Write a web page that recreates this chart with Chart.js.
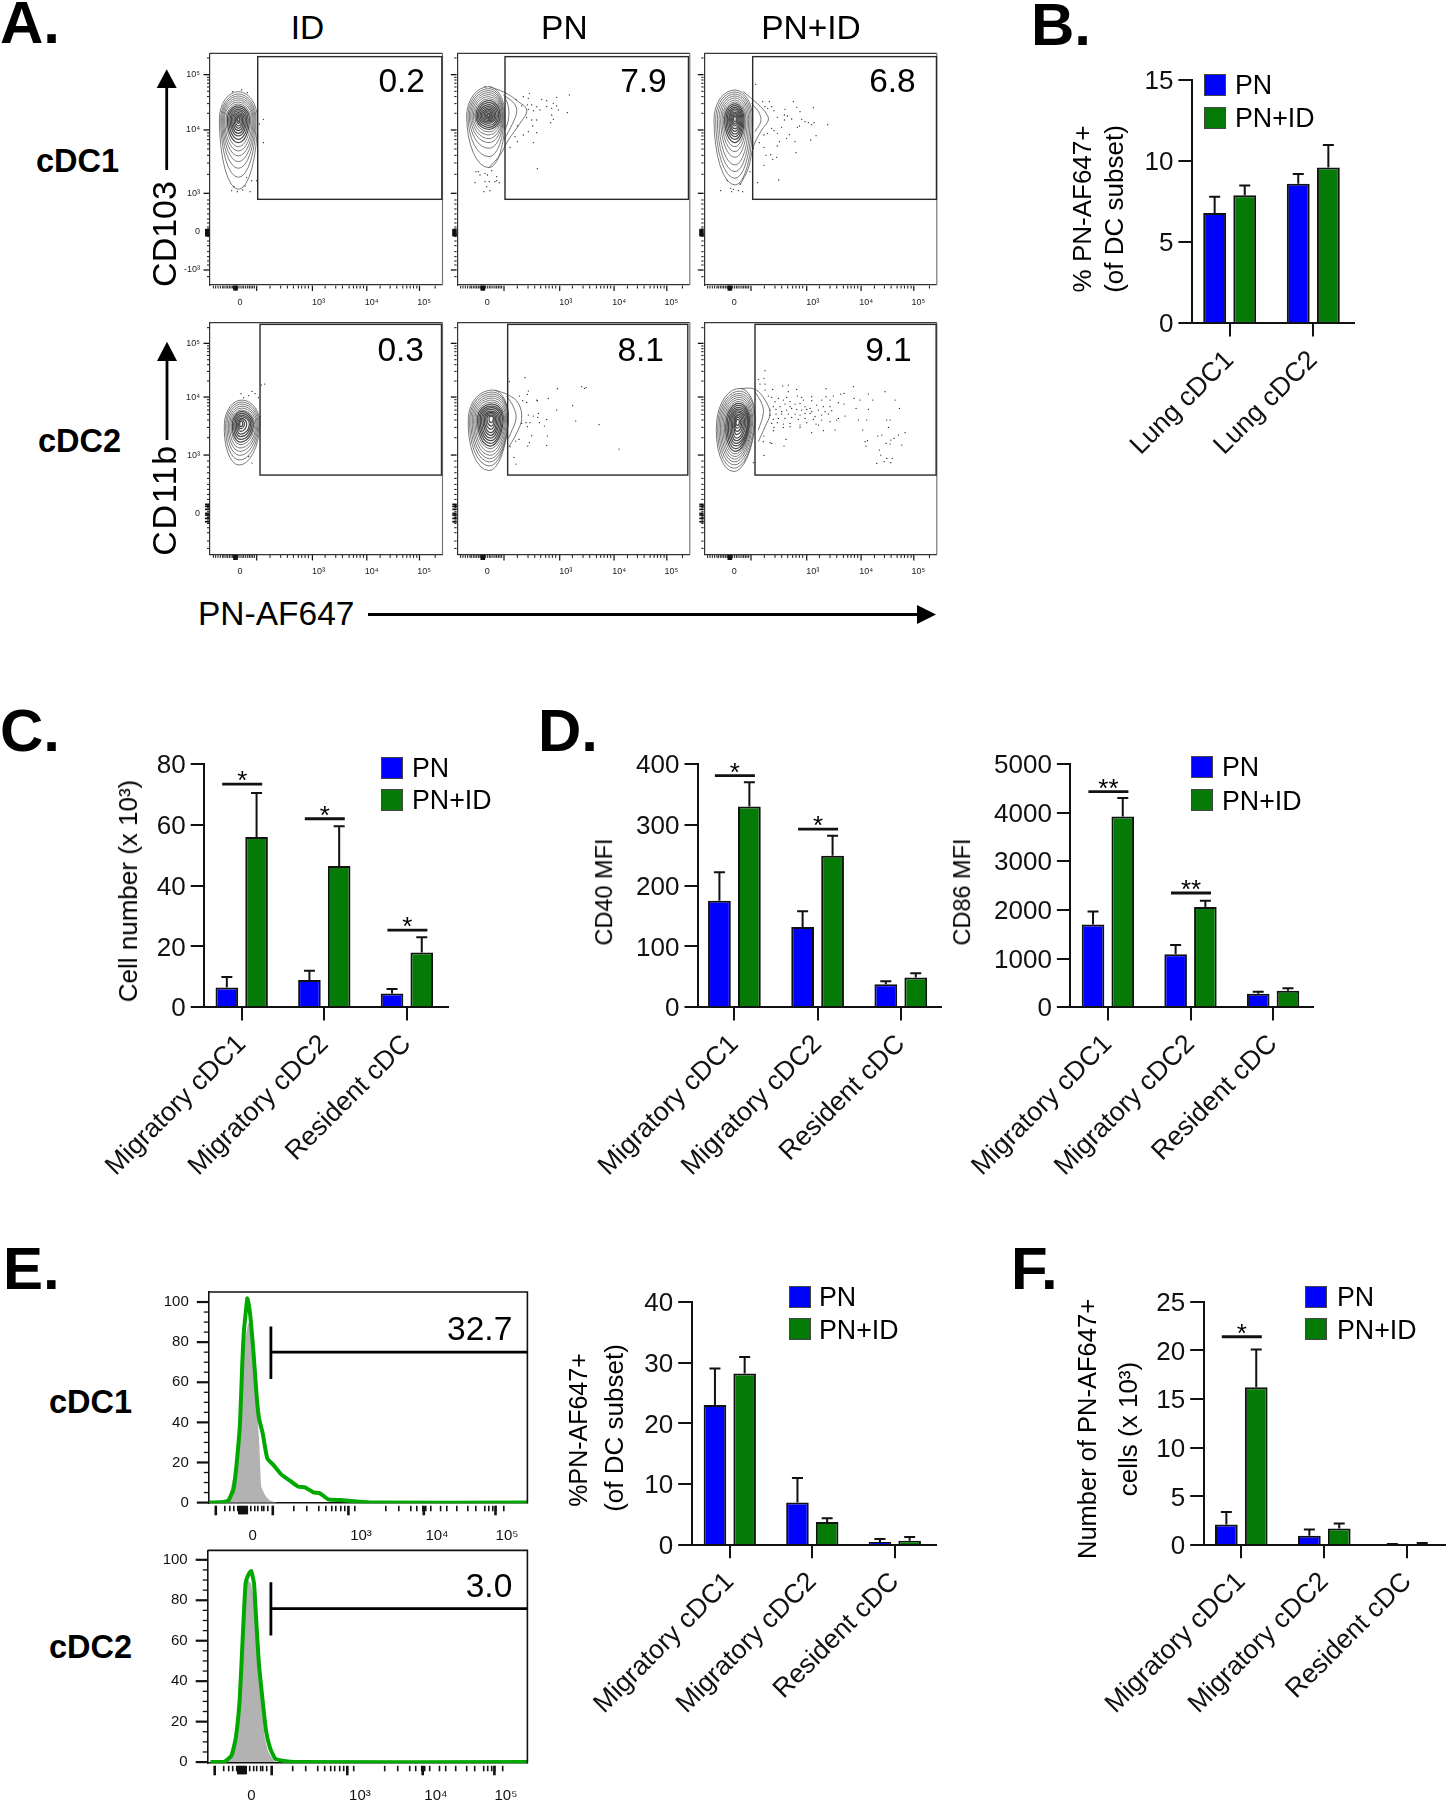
<!DOCTYPE html>
<html><head><meta charset="utf-8">
<script src="https://cdn.jsdelivr.net/npm/chart.js@4"></script>
<style>
html,body{margin:0;padding:0;background:#fff}
#page{position:relative;width:1448px;height:1800px;overflow:hidden;font-family:"Liberation Sans",Arial,sans-serif;color:#000}
#page canvas{position:absolute}
.t{position:absolute;white-space:nowrap;line-height:1}
svg{position:absolute;left:0;top:0}
</style></head><body><div id="page"></div>
<script>
/* ---------- bar panel data ---------- */
const lungCats=['Lung cDC1','Lung cDC2'];
const dcCats=['Migratory cDC1','Migratory cDC2','Resident cDC'];
const seriesNames=['PN','PN+ID'];

const bPN=[6.8,8.6], bPNTop=[7.8,9.2], bID=[7.9,9.6], bIDTop=[8.5,11];
const cPN=[6.5,9,4.5], cPNTop=[10,12,6], cID=[56,46.5,18], cIDTop=[70.5,59.5,23];
const cSigCat=[0,1,2], cSigVal=[73.4,62,25.4], cSigStars=['*','*','*'];
const d1PN=[175,132,38], d1PNTop=[222,158,43], d1ID=[330,249,49], d1IDTop=[370,282,56];
const d1SigCat=[0,1], d1SigVal=[381,293], d1SigStars=['*','*'];
const d2PN=[1700,1090,280], d2PNTop=[1970,1280,320], d2ID=[3920,2060,340], d2IDTop=[4300,2190,390];
const d2SigCat=[0,1], d2SigVal=[4431,2349], d2SigStars=['**','**'];
const ePN=[23,7,0.5], ePNTop=[29,11,1], eID=[28.2,3.8,0.7], eIDTop=[30.9,4.4,1.3];
const fPN=[2.1,0.95,0.05], fPNTop=[3.4,1.6,0.1], fID=[16.2,1.7,0.1], fIDTop=[20.1,2.2,0.2];
const fSigCat=[0], fSigVal=[21.4], fSigStars=['*'];

/* ---------- histogram data (panel E): channel, % of max ---------- */
const h1GreenX=[0,14.5,19.5,24.5,27.2,31.2,33.5,35.2,37.9,38.5,41.2,44.5,47.9,50.2,53.9,58.5,64.5,72.9,81.2,89.5,96.2,104.5,111.2,119.5,131.2,147.9,164.5,318.6];
const h1GreenY=[0,0.3,1,6.3,16.2,39.5,69.5,86,99.3,101.8,94.4,76,52.8,42,34.5,22,18.8,13.8,10.9,7.9,7.6,5.1,4.6,1.6,1.3,0.5,0,0];
const h1GrayX=[17.9,21.9,26.2,31.2,36.2,39.5,41.2,44.5,47.9,50.5,52.5,56.2,61.2,67.9];
const h1GrayY=[0,6.3,17.9,42.9,81,89.4,89.4,71,49.5,29.6,8,3.8,1,0];
const h2GreenX=[2.8,16.9,23.9,28.1,32,35.1,37.9,40.7,43.5,46.3,48.4,51.2,54.8,58.3,62.5,67.7,76.5,87,319.7];
const h2GreenY=[0,0.2,3.3,12,31,62.3,88.4,92.7,94.4,88.4,71,48.5,31,15.5,6.8,1.6,0.5,0,0];
const h2GrayX=[11.6,20.4,27.4,30.9,34.4,36.9,39.7,43.2,46.7,50.2,53.7,57.2,60.7,66,69.5];
const h2GrayY=[0,1.6,13.7,29.4,62.3,86.6,90,88.4,78,53.6,29.4,12,5,0.7,0];
const histXTickVals=[43.8,152.2,228.2,298.2];
const histXTickText=['0','10³','10⁴','10⁵'];
const histXMinorAll=[7,16,21,25,29,42,46,49,53,55,59,64,85,98,110,117,123,127,132,136,146,177,190,202,208,214,217,222,231.8,238,248,259,267,276,280,284,287,295];
const histXMajor=[7,64,139.6,215,286.7];
const histXBlob=[30.5,32,33.5,35,36.5,38];

/* ---------- contour-plot data (panel A), in channel units ---------- */
const flowXTickVals=[90,325,485,642];
const flowXTickText=['0','10³','10⁴','10⁵'];
const flowXMajor=[140,307,470,628];
const flowXMinor=[10,17,24,31,38,42,48,53,58,63,68,71,74,77,80,84,90,96,101,107,113,118,123,128,133,180,212,232,250,265,275,285,295,345,377,397,417,430,440,450,460,510,540,560,578,590,600,610,620,675];
const flowXBlob=[72,75,78,81];
const flowYTop=[45,160,275,465,631], flowYTopText=['-10³','0','10³','10⁴','10⁵'];
const flowYBot=[123,298,472,633], flowYBotText=['0','10³','10⁴','10⁵'];
const flowYMinorTop=[681,623,615,605,594,581,565,544,515,456,447,436,423,408,389,366,332,255,243,228,213,198,186,174,168,155,152,149,146,132,118,100,85,72,60,25];
const flowYMinorBot=[680,625,617,608,597,584,569,549,520,464,455,445,433,420,403,381,350,280,262,245,228,210,195,180,165,150,147,144,140,135,128,118,115,111,108,103,98,93,80,65,40,18];

const a1Points=[[340,238],[328,252],[340,308],[248,155],[275,150],[292,158],[245,452],[262,455],[278,450],[300,455],[290,412],[305,422],[320,422],[252,440],[285,438]];
const a2Points=[[268,160],[388,165],[228,178],[250,170],[265,175],[305,178],[320,182],[350,172],[340,190],[245,198],[262,195],[275,195],[290,200],[320,200],[335,205],[350,198],[355,210],[300,210],[280,212],[265,208],[382,218],[260,232],[275,240],[290,240],[335,225],[340,238],[332,248],[265,275],[290,278],[278,258],[232,258],[250,285],[232,305],[225,290],[210,322],[280,308],[292,386],[135,140],[108,395],[120,405],[135,400],[142,405],[155,392],[170,410],[170,422],[178,428],[105,428],[135,425],[148,425],[165,425],[140,440],[150,452],[132,455],[115,395]];
const a3Points=[[197,133],[218,185],[238,185],[310,185],[370,203],[225,200],[245,200],[320,202],[233,205],[252,212],[285,208],[330,215],[262,232],[283,225],[292,228],[305,237],[283,240],[335,238],[345,245],[355,248],[372,248],[365,254],[413,254],[322,262],[328,258],[275,262],[245,265],[252,272],[262,280],[232,280],[222,285],[298,284],[378,287],[290,295],[362,300],[315,305],[268,305],[208,308],[262,318],[318,338],[228,346],[242,344],[260,352],[248,358],[222,376],[180,395],[266,420],[203,428],[92,452],[122,445],[130,448],[145,452],[158,455],[125,455],[150,432],[112,422],[190,325],[222,322]];
const a4Points=[[145,251],[168,257],[187,251],[206,225],[216,222],[153,263],[197,263],[178,244],[202,320],[168,440],[178,459]];
const a5Points=[[208,215],[255,203],[265,243],[262,253],[238,258],[248,272],[260,277],[290,270],[292,272],[325,265],[352,236],[425,230],[438,233],[433,235],[398,287],[350,300],[295,310],[293,322],[280,318],[265,315],[320,328],[270,338],[258,338],[262,350],[298,338],[313,348],[245,340],[407,333],[477,344],[322,378],[275,377],[268,398],[263,408],[320,406],[237,388],[227,393],[537,417],[222,442],[228,462],[210,410]];
const a6Points=[[225,182],[205,208],[222,205],[210,222],[225,222],[225,240],[248,238],[278,228],[295,225],[320,238],[295,245],[408,236],[490,230],[585,245],[535,252],[452,252],[462,250],[430,258],[408,260],[365,260],[335,262],[322,258],[290,262],[265,265],[245,262],[235,258],[280,270],[255,275],[300,275],[340,270],[365,272],[395,270],[420,270],[445,278],[462,282],[492,265],[510,270],[548,270],[615,270],[250,290],[270,290],[285,282],[300,290],[315,282],[330,280],[345,290],[360,295],[380,285],[400,290],[420,290],[498,295],[535,298],[628,295],[240,300],[258,298],[275,305],[290,300],[305,295],[320,298],[335,300],[350,298],[365,305],[385,300],[405,305],[425,302],[240,315],[258,312],[275,312],[295,312],[315,312],[330,315],[345,310],[360,310],[375,320],[395,315],[415,312],[465,318],[250,328],[265,325],[285,325],[305,322],[325,328],[345,325],[370,328],[395,330],[420,335],[445,325],[505,330],[530,330],[590,330],[600,330],[245,340],[262,338],[280,342],[300,340],[330,345],[350,338],[378,342],[440,330],[252,352],[280,352],[300,350],[330,352],[385,345],[595,352],[250,362],[400,362],[435,360],[518,360],[365,368],[222,378],[288,388],[575,375],[563,378],[625,375],[645,368],[612,385],[602,390],[220,395],[245,400],[282,408],[532,392],[525,395],[588,400],[600,402],[635,405],[528,408],[222,436],[568,420],[572,435],[590,445],[606,445],[560,460],[582,455],[602,458],[190,458],[240,398]];

const a1T=[155,162,168,174,180,186,192,198,203,208,213,218,222,226,230,233];
const a1B=[448,412,385,365,348,333,320,308,298,288,280,272,265,258,250,244];
const a1L=[208,212,215,218,221,224,228,232,236,240,244,248,252,256,260,262];
const a1R=[322,318,315,312,309,306,302,298,294,290,286,282,278,274,270,268];
const a2T=[140,146,152,158,164,170,176,182,188,194,199,204,208,212,216,220,222];
const a2B=[383,350,325,308,296,285,276,268,262,256,250,246,242,238,235,232,230];
const a2L=[80,84,88,92,96,100,104,108,112,116,120,124,128,132,136,140,143];
const a2R=[195,192,190,188,186,184,182,180,176,172,168,164,160,157,154,151,149];
const a3T=[150,156,162,168,174,180,186,192,197,202,207,212,217,221,225,229];
const a3B=[435,415,395,375,352,335,320,308,298,290,282,274,266,258,252,246];
const a3L=[72,77,82,87,92,96,100,104,108,112,116,119,122,125,128,131];
const a3R=[188,184,180,176,172,168,165,162,159,156,153,150,147,144,141,139];
const a4T=[270,276,282,288,294,300,305,310,315,320,325,329,333];
const a4B=[465,450,436,424,414,404,396,388,380,372,364,356,350];
const a4L=[95,99,103,107,111,115,119,123,127,131,135,138,141];
const a4R=[202,199,196,193,190,186,182,178,174,170,162,155,150];
const a5T=[240,246,252,258,264,270,276,282,288,293,298,303,307,311,315,318];
const a5B=[482,468,456,446,436,426,416,408,400,392,384,376,368,358,348,338];
const a5L=[85,89,93,97,101,105,109,113,117,121,125,129,133,137,141,147];
const a5R=[205,205,205,203,200,197,194,190,187,183,179,175,171,167,163,160];
const a6T=[235,243,250,256,262,268,274,280,286,292,297,302,307,312,317,322,328];
const a6B=[485,475,465,456,448,440,432,424,416,408,400,392,384,374,364,354,346];
const a6L=[80,84,88,92,96,100,104,108,112,116,120,124,128,132,134,136,138];
const a6R=[195,195,192,188,185,182,180,178,176,174,172,168,164,160,156,152,148];
const a2Lobes=[[[147,140],[195,158],[232,183],[260,210],[240,250],[205,300],[180,345],[147,383]],[[190,165],[222,190],[230,215],[218,250],[192,300]],[[195,172],[205,200],[205,240],[195,270]]];
const a3Lobes=[[[160,155],[195,185],[225,215],[235,240],[215,270],[190,320],[175,385],[150,435]],[[185,190],[208,220],[212,245],[195,275]]];
const a4Lobes=[];
const a5Lobes=[[[165,240],[205,255],[235,280],[245,325],[232,365],[207,410]],[[200,258],[220,290],[228,325],[212,370],[205,385]]];
const a6Lobes=[[[150,235],[195,238],[225,270],[240,310],[225,350],[205,395]],[[195,245],[215,280],[220,310],[205,360]]];

/* ---------- helpers ---------- */
const page=document.getElementById('page');
const FONT='"Liberation Sans",Arial,sans-serif';
const BLUE='#0000ff', GREEN='#067a06';
Chart.defaults.font.family=FONT;
Chart.defaults.animation=false;
Chart.defaults.responsive=false;
Chart.defaults.devicePixelRatio=1;
Chart.defaults.color='#000';

function noPad(s){s.paddingLeft=s.paddingRight=s.paddingTop=s.paddingBottom=0;}
function mk(L,T,R,B,p){
  const c=document.createElement('canvas');
  const X0=Math.floor(L-p.l),Y0=Math.floor(T-p.t);
  const W=Math.ceil(R+p.r-X0),H=Math.ceil(B+p.b-Y0);
  c.width=W;c.height=H;c.style.left=X0+'px';c.style.top=Y0+'px';
  c.style.width=W+'px';c.style.height=H+'px';
  page.appendChild(c);
  return {c,X0,Y0,left:L-X0,top:T-Y0,right:W-(R-X0),bottom:H-(B-Y0)};
}
function text(s,o){
  const e=document.createElement('div');e.className='t';e.textContent=s;
  e.style.fontSize=o.size+'px';e.style.fontWeight=o.bold?'bold':'normal';
  const base=o.base-0.8465*o.size;
  e.style.top=base+'px';
  if(o.right!==undefined){e.style.right=(1448-o.right)+'px';}
  else if(o.cx!==undefined){e.style.left=o.cx+'px';e.style.transform='translateX(-50%)';}
  else{e.style.left=o.x+'px';}
  page.appendChild(e);
}
function vtext(s,bx,cy,size,spacing){
  const e=document.createElement('div');e.className='t';e.textContent=s;
  e.style.fontSize=size+'px';
  if(spacing)e.style.letterSpacing=spacing+'px';
  e.style.left=bx+'px';e.style.top=cy+'px';
  e.style.transformOrigin='0 0';
  e.style.transform='rotate(-90deg) translate(-50%,'+(-0.8465*size)+'px)';
  page.appendChild(e);
}

/* ---------- bar panels ---------- */
function barPanel(o){
  const box=mk(o.L,o.T,o.R,o.B,{l:160,t:14,r:o.R>1440?1:6,b:215});
  const pitch=o.ticks[1]-o.ticks[0];
  const xMin=-(o.ticks[0]-o.L)/pitch, xMax=(o.R-o.ticks[0])/pitch;
  const extras={id:'extras'+o.id,afterDatasetsDraw(ch){
    const ctx=ch.ctx,x=ch.scales.x,y=ch.scales.y;
    ctx.save();
    ctx.strokeStyle='#111';ctx.lineWidth=2;
    [o.topA,o.topB].forEach((tops,ds)=>{
      ch.getDatasetMeta(ds).data.forEach((bar,i)=>{
        const py=y.getPixelForValue(tops[i]);
        ctx.beginPath();ctx.moveTo(bar.x,bar.y);ctx.lineTo(bar.x,py);
        ctx.moveTo(bar.x-5.5,py);ctx.lineTo(bar.x+5.5,py);ctx.stroke();
      });
    });
    if(o.sigCat){
      ctx.fillStyle='#000';ctx.font='26px '+FONT;ctx.textAlign='center';ctx.textBaseline='alphabetic';
      o.sigCat.forEach((c,i)=>{
        const cx=x.getPixelForValue(c)+0.5,py=y.getPixelForValue(o.sigVal[i]);
        ctx.lineWidth=2.8;ctx.beginPath();ctx.moveTo(cx-20,py);ctx.lineTo(cx+20,py);ctx.stroke();
        ctx.fillText(o.sigStars[i],cx,py+5);
      });
    }
    ctx.restore();
  }};
  new Chart(box.c,{type:'bar',
    data:{datasets:[
      {label:seriesNames[0],data:o.cats.map((_,i)=>({x:i,y:o.a[i]})),backgroundColor:BLUE,borderColor:'#111',borderWidth:2,categoryPercentage:.72,barPercentage:.76},
      {label:seriesNames[1],data:o.cats.map((_,i)=>({x:i,y:o.b[i]})),backgroundColor:GREEN,borderColor:'#111',borderWidth:2,categoryPercentage:.72,barPercentage:.76}
    ]},
    options:{
      layout:{autoPadding:false,padding:{top:box.top,right:box.right,left:0,bottom:0}},
      plugins:{legend:{display:false},tooltip:{enabled:false}},
      scales:{
        x:{type:'linear',offset:false,min:xMin,max:xMax,
          afterBuildTicks(s){s.ticks=o.cats.map((_,i)=>({value:i}));},
          afterFit(s){s.height=box.bottom;noPad(s);},
          border:{color:'#111',width:2},
          grid:{offset:false,drawOnChartArea:false,color:'#111',lineWidth:2,tickLength:13.3},
          ticks:{autoSkip:false,minRotation:45,maxRotation:45,padding:8,font:{size:26.7},color:'#111',
            callback:(v,i)=>o.cats[i]}},
        y:{min:0,max:o.yMax,
          afterFit(s){s.width=box.left;noPad(s);},
          border:{color:'#111',width:2},
          grid:{drawOnChartArea:false,color:'#111',lineWidth:2,tickLength:13.3},
          ticks:{stepSize:o.yStep,padding:5,labelOffset:2,font:{size:26},color:'#111',callback:v=>String(v)}}
      }
    },plugins:[extras]});
  o.legend&&seriesNames.forEach((n,i)=>{
    const s=document.createElement('div');
    s.style.cssText='position:absolute;box-sizing:border-box;border:1.5px solid #444;left:'+o.legend.x+'px;top:'+o.legend.y[i]+'px;width:'+o.legend.w+'px;height:22px;background:'+(i?GREEN:BLUE);
    page.appendChild(s);
    text(n,{x:o.legend.tx,base:o.legend.y[i]+21,size:26.8});
  });
  o.titles.forEach(t=>vtext(t[0],t[1],t[2],t[3]));
}
barPanel({id:'B',L:1191.7,R:1354,T:80,B:323.3,ticks:[1229.7,1313.3],cats:lungCats,a:bPN,b:bID,topA:bPNTop,topB:bIDTop,yMax:15,yStep:5,
  legend:{x:1204,w:22,y:[74,107],tx:1235},titles:[['% PN-AF647+',1090.7,209,26],['(of DC subset)',1123,209,26]]});
barPanel({id:'C',L:204,R:448,T:764,B:1007.3,ticks:[241.7,324.3,407],cats:dcCats,a:cPN,b:cID,topA:cPNTop,topB:cIDTop,yMax:80,yStep:20,sigCat:cSigCat,sigVal:cSigVal,sigStars:cSigStars,
  legend:{x:380.7,w:22,y:[756.7,789],tx:412},titles:[['Cell number (x 10³)',137,891,26]]});
barPanel({id:'D1',L:697.8,R:941,T:764,B:1007.3,ticks:[734.4,817.6,900.2],cats:dcCats,a:d1PN,b:d1ID,topA:d1PNTop,topB:d1IDTop,yMax:400,yStep:100,sigCat:d1SigCat,sigVal:d1SigVal,sigStars:d1SigStars,
  titles:[['CD40 MFI',613,891.7,23.5]]});
barPanel({id:'D2',L:1070.2,R:1313.4,T:764,B:1007.3,ticks:[1107.9,1190.5,1273.1],cats:dcCats,a:d2PN,b:d2ID,topA:d2PNTop,topB:d2IDTop,yMax:5000,yStep:1000,sigCat:d2SigCat,sigVal:d2SigVal,sigStars:d2SigStars,
  legend:{x:1191,w:22,y:[756,789.3],tx:1222},titles:[['CD86 MFI',971,891.7,23.5]]});
barPanel({id:'E',L:691.5,R:936,T:1301.7,B:1545,ticks:[729.8,812.3,895.4],cats:dcCats,a:ePN,b:eID,topA:ePNTop,topB:eIDTop,yMax:40,yStep:10,
  legend:{x:788.8,w:22,y:[1285.7,1318.3],tx:819},titles:[['%PN-AF647+',587,1430,25],['(of DC subset)',623,1428,26]]});
barPanel({id:'F',L:1203.5,R:1445,T:1301.7,B:1545,ticks:[1241.3,1324.3,1406.8],cats:dcCats,a:fPN,b:fID,topA:fPNTop,topB:fIDTop,yMax:25,yStep:5,sigCat:fSigCat,sigVal:fSigVal,sigStars:fSigStars,
  legend:{x:1305.4,w:22,y:[1285.7,1318.3],tx:1337},titles:[['Number of PN-AF647+',1097,1429,25.5],['cells (x 10³)',1137,1429,26]]});

/* ---------- panel A contour plots ---------- */
const QUAD=[Math.PI,1.5*Math.PI,2*Math.PI,2.5*Math.PI];
function flowPanel(p){
  const box=mk(p.L,p.T,p.L+232.5,p.T+231.7,{l:34,t:3,r:2,b:30});
  const conv=([x,y])=>({x:x-p.x0,y:p.y1-y});
  const overlay={id:'flow',beforeDatasetsDraw(ch){
    const ctx=ch.ctx,x=ch.scales.x,y=ch.scales.y;
    const cx=x.getPixelForValue(p.cx-p.x0),cy=y.getPixelForValue(p.y1-p.cy);
    const k=1/3,n=p.T_.length;
    ctx.save();
    ctx.translate(cx,cy);ctx.rotate(p.tilt*Math.PI/180);
    p.T_.forEach((_,i)=>{
      const rl=(p.cx-p.L_[i])*k,rr=(p.R_[i]-p.cx)*k,rt=(p.cy-p.T_[i])*k,rb=(p.B_[i]-p.cy)*k;
      ctx.strokeStyle=i<n*.4?'#666':'#4a4a4a';
      ctx.lineWidth=i<n*.4?.85:1.25;
      ctx.beginPath();
      ctx.ellipse(0,0,rl,rt,0,QUAD[0],QUAD[1]);
      ctx.ellipse(0,0,rr,rt,0,QUAD[1],QUAD[2]);
      ctx.ellipse(0,0,rr,rb,0,0,Math.PI/2);
      ctx.ellipse(0,0,rl,rb,0,Math.PI/2,Math.PI);
      ctx.closePath();ctx.stroke();
    });
    ctx.restore();
  },afterDatasetsDraw(ch){
    const ctx=ch.ctx,x=ch.scales.x,y=ch.scales.y,a=ch.chartArea;
    ctx.save();
    ctx.strokeStyle='#3a3a3a';ctx.lineWidth=1.2;
    ctx.beginPath();ctx.moveTo(a.left,a.top);ctx.lineTo(a.right,a.top);ctx.stroke();
    ctx.strokeStyle='#777';ctx.beginPath();ctx.moveTo(a.right,a.top);ctx.lineTo(a.right,a.bottom);ctx.stroke();
    ctx.strokeStyle='#2a2a2a';ctx.lineWidth=1.4;
    const gx0=x.getPixelForValue(p.gate[0]),gx1=x.getPixelForValue(p.gate[1]),gy1=y.getPixelForValue(p.gate[2]),gy0=y.getPixelForValue(p.gate[3]);
    ctx.strokeRect(gx0,gy1,gx1-gx0,gy0-gy1);
    ctx.strokeStyle='#111';ctx.lineWidth=1;
    flowXMinor.forEach(v=>{const px=x.getPixelForValue(v);ctx.beginPath();ctx.moveTo(px,a.bottom+.7);ctx.lineTo(px,a.bottom+3.5);ctx.stroke();});
    ctx.lineWidth=1.7;
    flowXBlob.forEach(v=>{const px=x.getPixelForValue(v);ctx.beginPath();ctx.moveTo(px,a.bottom+.7);ctx.lineTo(px,a.bottom+5.6);ctx.stroke();});
    ctx.lineWidth=1.2;
    flowXMajor.forEach(v=>{const px=x.getPixelForValue(v);ctx.beginPath();ctx.moveTo(px,a.bottom+.7);ctx.lineTo(px,a.bottom+6);ctx.stroke();});
    ctx.lineWidth=1;
    p.yMinor.forEach(v=>{const py=y.getPixelForValue(v);ctx.beginPath();ctx.moveTo(a.left-.7,py);ctx.lineTo(a.left-3,py);ctx.stroke();});
    ctx.lineWidth=1.3;
    p.yMajor.forEach(v=>{const py=y.getPixelForValue(v);ctx.beginPath();ctx.moveTo(a.left-.7,py);ctx.lineTo(a.left-6.5,py);ctx.stroke();});
    ctx.lineWidth=1.7;
    p.yBlob.forEach(v=>{const py=y.getPixelForValue(v);ctx.beginPath();ctx.moveTo(a.left-.7,py);ctx.lineTo(a.left-5,py);ctx.stroke();});
    ctx.restore();
  }};
  const lobes=p.lobes.map(l=>({type:'line',data:l.map(conv),showLine:true,pointRadius:0,borderColor:'#5e5e5e',borderWidth:.85,tension:.4}));
  new Chart(box.c,{type:'scatter',
    data:{datasets:[{label:'events',data:p.points.map(conv),pointRadius:.65,pointBorderWidth:0,pointBackgroundColor:'#222'},...lobes]},
    options:{
      layout:{autoPadding:false,padding:{top:box.top,right:box.right,left:0,bottom:0}},
      plugins:{legend:{display:false},tooltip:{enabled:false}},
      scales:{
        x:{type:'linear',min:0,max:697,
          afterBuildTicks(s){s.ticks=flowXTickVals.map(v=>({value:v}));},
          afterFit(s){s.height=box.bottom;noPad(s);},
          border:{color:'#333',width:1.2},
          grid:{drawOnChartArea:false,drawTicks:false},
          ticks:{autoSkip:false,maxRotation:0,padding:12,font:{size:9},color:'#222',callback:(v,i)=>flowXTickText[i]}},
        y:{type:'linear',min:0,max:695,
          afterBuildTicks(s){s.ticks=p.yTicks.map(v=>({value:v}));},
          afterFit(s){s.width=box.left;noPad(s);},
          border:{color:'#333',width:1.2},
          grid:{drawOnChartArea:false,drawTicks:false},
          ticks:{autoSkip:false,padding:10,font:{size:9},color:'#222',callback:(v,i)=>p.showY?p.yText[i]:''}}
      }
    },plugins:[overlay]});
}
const rowTop={yTicks:flowYTop,yText:flowYTopText,yMinor:flowYMinorTop,yMajor:[45,275,465,631],yBlob:[148,151,154,157,160,163,166]};
const rowBot={yTicks:flowYBot,yText:flowYBotText,yMinor:flowYMinorBot,yMajor:[298,472,633],yBlob:[150,144,135,123,118,108,98]};
flowPanel({...rowTop,showY:true,L:210,T:53.3,x0:180,y1:735,cx:265,cy:237,tilt:0,T_:a1T,B_:a1B,L_:a1L,R_:a1R,points:a1Points,lobes:[],gate:[143,695,685,257]});
flowPanel({...rowTop,L:457.3,T:53.3,x0:52,y1:735,cx:147,cy:228,tilt:0,T_:a2T,B_:a2B,L_:a2L,R_:a2R,points:a2Points,lobes:a2Lobes,gate:[143,693,685,257]});
flowPanel({...rowTop,L:704.3,T:53.3,x0:43,y1:735,cx:135,cy:238,tilt:0,T_:a3T,B_:a3B,L_:a3L,R_:a3R,points:a3Points,lobes:a3Lobes,gate:[145,696,685,257]});
flowPanel({...rowBot,showY:true,L:210,T:322.7,x0:52,y1:733,cx:145,cy:342,tilt:3,T_:a4T,B_:a4B,L_:a4L,R_:a4R,points:a4Points,lobes:a4Lobes,gate:[150,694,690,238]});
flowPanel({...rowBot,L:457.3,T:322.7,x0:52,y1:733,cx:155,cy:325,tilt:3,T_:a5T,B_:a5B,L_:a5L,R_:a5R,points:a5Points,lobes:a5Lobes,gate:[151,691,690,238]});
flowPanel({...rowBot,L:704.3,T:322.7,x0:43,y1:733,cx:143,cy:338,tilt:5,T_:a6T,B_:a6B,L_:a6L,R_:a6R,points:a6Points,lobes:a6Lobes,gate:[152,695,690,238]});

/* ---------- panel E histograms ---------- */
const pairs=(xs,ys)=>xs.map((x,i)=>({x,y:ys[i]}));
function histPanel(p){
  const box=mk(p.L,p.T,p.R,p.B,{l:50,t:2,r:2,b:36});
  const overlay={id:'hist',afterDatasetsDraw(ch){
    const ctx=ch.ctx,x=ch.scales.x,y=ch.scales.y,a=ch.chartArea;
    ctx.save();
    ctx.strokeStyle='#111';ctx.lineWidth=1.6;
    ctx.beginPath();ctx.moveTo(a.left,a.top);ctx.lineTo(a.right,a.top);ctx.lineTo(a.right,a.bottom);ctx.stroke();
    ctx.lineWidth=2.8;ctx.strokeStyle='#000';
    const gx=x.getPixelForValue(p.gx);
    ctx.beginPath();ctx.moveTo(gx,y.getPixelForValue(p.gTop));ctx.lineTo(gx,y.getPixelForValue(p.gBot));
    ctx.moveTo(gx,y.getPixelForValue(p.gMid));ctx.lineTo(a.right,y.getPixelForValue(p.gMid));ctx.stroke();
    ctx.strokeStyle='#111';ctx.lineWidth=1.6;
    histXMinorAll.forEach(v=>{const px=x.getPixelForValue(v);ctx.beginPath();ctx.moveTo(px,a.bottom+2.5);ctx.lineTo(px,a.bottom+8);ctx.stroke();});
    ctx.lineWidth=2.6;
    histXMajor.forEach(v=>{const px=x.getPixelForValue(v);ctx.beginPath();ctx.moveTo(px,a.bottom+2.5);ctx.lineTo(px,a.bottom+12);ctx.stroke();});
    histXBlob.forEach(v=>{const px=x.getPixelForValue(v);ctx.beginPath();ctx.moveTo(px,a.bottom+2.5);ctx.lineTo(px,a.bottom+11);ctx.stroke();});
    y.ticks.forEach(t=>{
      const py=y.getPixelForValue(t.value),major=t.value%20===0;
      ctx.lineWidth=major?2.2:1.3;ctx.beginPath();ctx.moveTo(a.left,py);ctx.lineTo(a.left-(major?12:5),py);ctx.stroke();
    });
    ctx.restore();
  }};
  new Chart(box.c,{type:'line',
    data:{datasets:[
      {label:'gray',data:pairs(p.grayX,p.grayY),fill:'origin',backgroundColor:'#b2b2b2',borderWidth:0,pointRadius:0,tension:.15,order:2},
      {label:'green',data:pairs(p.greenX,p.greenY),borderColor:'#00a800',borderWidth:4,pointRadius:0,tension:.15,fill:false,order:1}
    ]},
    options:{
      layout:{autoPadding:false,padding:{top:box.top,right:box.right,left:0,bottom:0}},
      plugins:{legend:{display:false},tooltip:{enabled:false}},
      scales:{
        x:{type:'linear',min:0,max:p.R-p.L,
          afterBuildTicks(s){s.ticks=histXTickVals.map(v=>({value:v}));},
          afterFit(s){s.height=box.bottom;noPad(s);},
          border:{color:'#111',width:1.6},
          grid:{drawOnChartArea:false,drawTicks:false},
          ticks:{autoSkip:false,maxRotation:0,padding:24,font:{size:15},color:'#111',callback:(v,i)=>histXTickText[i]}},
        y:{type:'linear',min:p.yMin,max:p.yMax,
          afterBuildTicks(s){const t=[];for(let v=0;v<=100;v+=5)t.push({value:v});s.ticks=t;},
          afterFit(s){s.width=box.left;noPad(s);},
          border:{color:'#111',width:1.6},
          grid:{drawOnChartArea:false,drawTicks:false},
          ticks:{autoSkip:false,padding:20,font:{size:15},color:'#111',callback:v=>v%20===0?String(v):''}}
      }
    },plugins:[overlay]});
}
histPanel({L:208.8,R:527.4,T:1292,B:1503.3,yMin:-0.35,yMax:105,grayX:h1GrayX,grayY:h1GrayY,greenX:h1GreenX,greenY:h1GreenY,gx:62.1,gTop:87.8,gBot:61.6,gMid:75});
histPanel({L:207.7,R:527.4,T:1550.4,B:1763.3,yMin:-0.6,yMax:104.65,grayX:h2GrayX,grayY:h2GrayY,greenX:h2GreenX,greenY:h2GreenY,gx:63.2,gTop:88.9,gBot:62.6,gMid:75.9});

/* ---------- page text and axis arrows ---------- */
[['A.',0,43.5],['B.',1031,46],['C.',0,752],['D.',538,752],['E.',3,1290],['F.',1011,1290]].forEach(a=>text(a[0],{x:a[1],base:a[2],size:60,bold:true}));
[['ID',307.4],['PN',564.4],['PN+ID',811]].forEach(a=>text(a[0],{cx:a[1],base:39.5,size:33.5}));
[['cDC1',36,173],['cDC2',38,453],['cDC1',49,1414],['cDC2',49,1658.5]].forEach(a=>text(a[0],{x:a[1],base:a[2],size:32.5,bold:true}));
[['0.2',425,92.7],['7.9',666.7,92.7],['6.8',915.7,92.7],['0.3',424,361.7],['8.1',664,361.7],['9.1',911.7,361.7],['32.7',512.3,1340.5],['3.0',512.3,1597.4]].forEach(a=>text(a[0],{right:a[1],base:a[2],size:33.5}));
vtext('CD103',176,234,34);
vtext('CD11b',176,500,34,1.6);
text('PN-AF647',{x:198,base:625,size:33.5});
const ns='http://www.w3.org/2000/svg';
const svg=document.createElementNS(ns,'svg');svg.setAttribute('width',1448);svg.setAttribute('height',1800);
svg.innerHTML=
 '<g fill="#000" stroke="#000" stroke-width="2.8">'+
 '<line x1="166.7" y1="170" x2="166.7" y2="85"/><polygon stroke="none" points="166.7,69.3 156.7,88 176.7,88"/>'+
 '<line x1="167" y1="440" x2="167" y2="358"/><polygon stroke="none" points="167,341.8 157,361 177,361"/>'+
 '<line x1="368" y1="614.5" x2="920" y2="614.5"/><polygon stroke="none" points="936,614.5 917,605 917,624"/></g>';
page.appendChild(svg);
</script></body></html>
